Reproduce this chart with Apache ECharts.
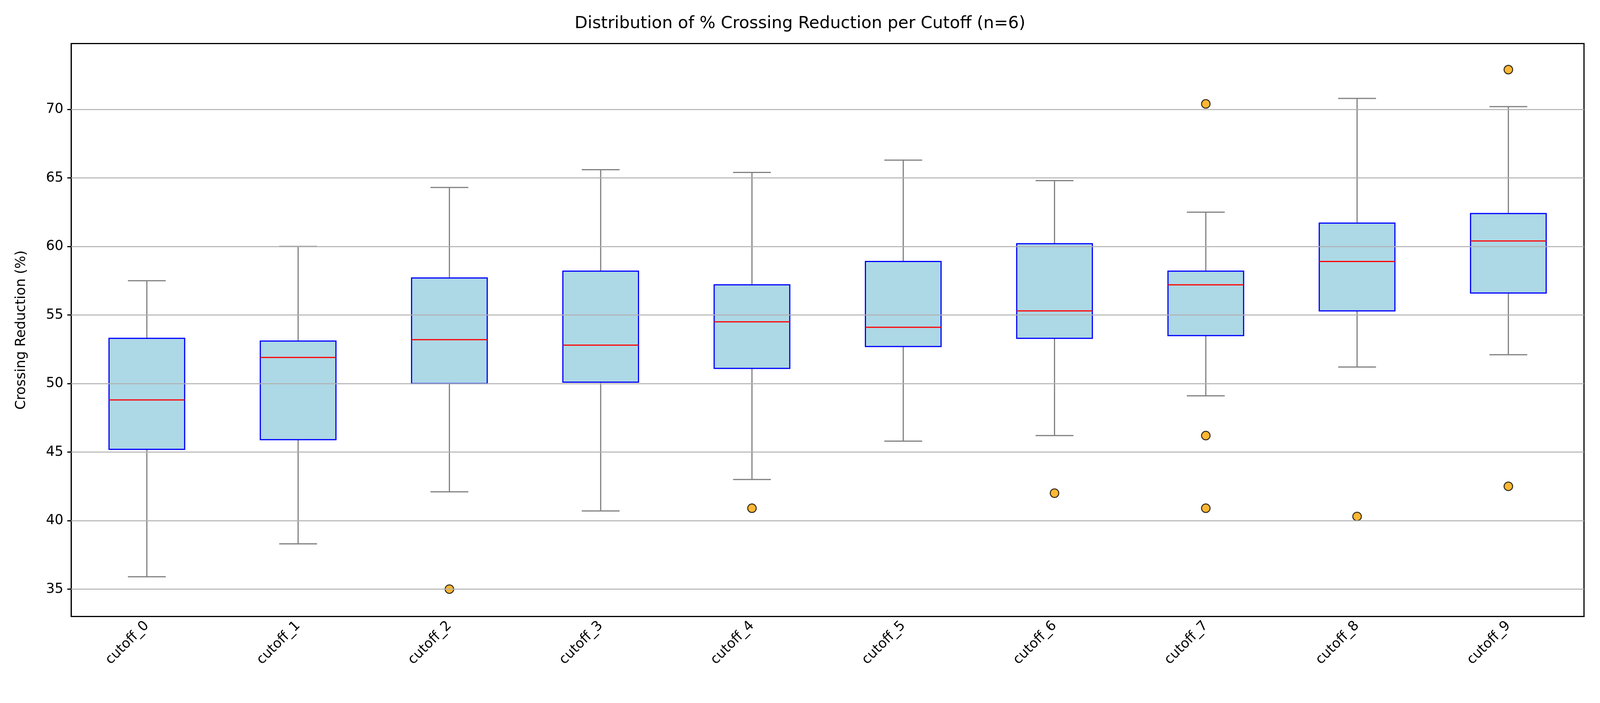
<!DOCTYPE html>
<html><head><meta charset="utf-8">
<script src="https://cdn.jsdelivr.net/npm/echarts@6/dist/echarts.min.js"></script>
<style>html,body{margin:0;padding:0;background:#fff;overflow:hidden}#c{width:100vw;height:100vh}</style>
</head><body><div id="c"></div>
<script>
var categories = ['cutoff_0','cutoff_1','cutoff_2','cutoff_3','cutoff_4','cutoff_5','cutoff_6','cutoff_7','cutoff_8','cutoff_9'];
// [low whisker, Q1, median, Q3, high whisker]
var boxStats = [
    [35.9, 45.2, 48.8, 53.3, 57.5],
    [38.3, 45.9, 51.9, 53.1, 60.0],
    [42.1, 50.0, 53.2, 57.7, 64.3],
    [40.7, 50.1, 52.8, 58.2, 65.6],
    [43.0, 51.1, 54.5, 57.2, 65.4],
    [45.8, 52.7, 54.1, 58.9, 66.3],
    [46.2, 53.3, 55.3, 60.2, 64.8],
    [49.1, 53.5, 57.2, 58.2, 62.5],
    [51.2, 55.3, 58.9, 61.7, 70.8],
    [52.1, 56.6, 60.4, 62.4, 70.2]
];
var outliers = [
    [2, 35.0], [4, 40.9], [6, 42.0], [7, 70.4], [7, 46.2], [7, 40.9],
    [8, 40.3], [9, 72.9], [9, 42.5]
];
var yTicks = [35, 40, 45, 50, 55, 60, 65, 70];

var chart = echarts.init(document.getElementById('c'));
var lw = 3;
var option = {
    backgroundColor: '#fff',
    title: {
        text: 'Distribution of % Crossing Reduction per Cutoff (n=6)',
        left: 'center', top: '1.9%',
        textStyle: {fontFamily: 'DejaVu Sans', fontSize: 43, fontWeight: 'normal', color: '#000'}
    },
    grid: {left: '4.45%', right: '1%', top: '6.2%', bottom: '12.3%', show: true, borderColor: '#000', borderWidth: 3},
    xAxis: {
        type: 'category', data: categories, boundaryGap: true,
        axisLine: {lineStyle: {color: '#000', width: 3}},
        axisTick: {alignWithLabel: true, length: 10, lineStyle: {color: '#000', width: 3}},
        axisLabel: {rotate: 45, fontFamily: 'DejaVu Sans', fontSize: 35, color: '#000', margin: 18},
        splitLine: {show: false}
    },
    yAxis: {
        type: 'value', min: 33, max: 74.8,
        name: 'Crossing Reduction (%)', nameLocation: 'middle', nameGap: 110,
        nameTextStyle: {fontFamily: 'DejaVu Sans', fontSize: 35, color: '#000'},
        axisLine: {show: true, lineStyle: {color: '#000', width: 3}},
        axisTick: {show: true, customValues: yTicks, length: 10, lineStyle: {color: '#000', width: 3}},
        axisLabel: {customValues: yTicks, fontFamily: 'DejaVu Sans', fontSize: 35, color: '#000', margin: 20},
        splitLine: {show: false}
    },
    series: [
        {
            type: 'line', data: [], silent: true,
            markLine: {
                symbol: 'none', silent: true, label: {show: false},
                lineStyle: {color: '#b0b0b0', width: 2.5, type: 'solid'},
                data: yTicks.map(function (v) { return {yAxis: v}; })
            }
        },
        {
            type: 'custom',
            data: boxStats.map(function (s, i) { return [i].concat(s); }),
            encode: {x: 0, y: [1, 2, 3, 4, 5]},
            renderItem: function (params, api) {
                var i = api.value(0);
                var w = api.size([1, 0])[0];
                var p = function (v) { return api.coord([i, v]); };
                var lo = p(api.value(1)), q1 = p(api.value(2)), md = p(api.value(3)),
                    q3 = p(api.value(4)), hi = p(api.value(5));
                var x = lo[0], bw = w * 0.5 / 2, cw = w * 0.25 / 2;
                var g = {stroke: '#808080', lineWidth: lw};
                return {
                    type: 'group',
                    children: [
                        {type: 'line', shape: {x1: x, y1: lo[1], x2: x, y2: q1[1]}, style: g},
                        {type: 'line', shape: {x1: x, y1: q3[1], x2: x, y2: hi[1]}, style: g},
                        {type: 'line', shape: {x1: x - cw, y1: lo[1], x2: x + cw, y2: lo[1]}, style: g},
                        {type: 'line', shape: {x1: x - cw, y1: hi[1], x2: x + cw, y2: hi[1]}, style: g},
                        {type: 'rect', shape: {x: x - bw, y: q3[1], width: bw * 2, height: q1[1] - q3[1]},
                            style: {fill: '#add8e6', stroke: '#0000ff', lineWidth: lw}},
                        {type: 'line', shape: {x1: x - bw, y1: md[1], x2: x + bw, y2: md[1]},
                            style: {stroke: '#ff0000', lineWidth: lw}}
                    ]
                };
            }
        },
        {
            type: 'scatter', data: outliers, symbolSize: 22,
            itemStyle: {color: '#ffa500', borderColor: '#000', borderWidth: 2.5}
        }
    ]
};
chart.setOption(option);
</script></body></html>
